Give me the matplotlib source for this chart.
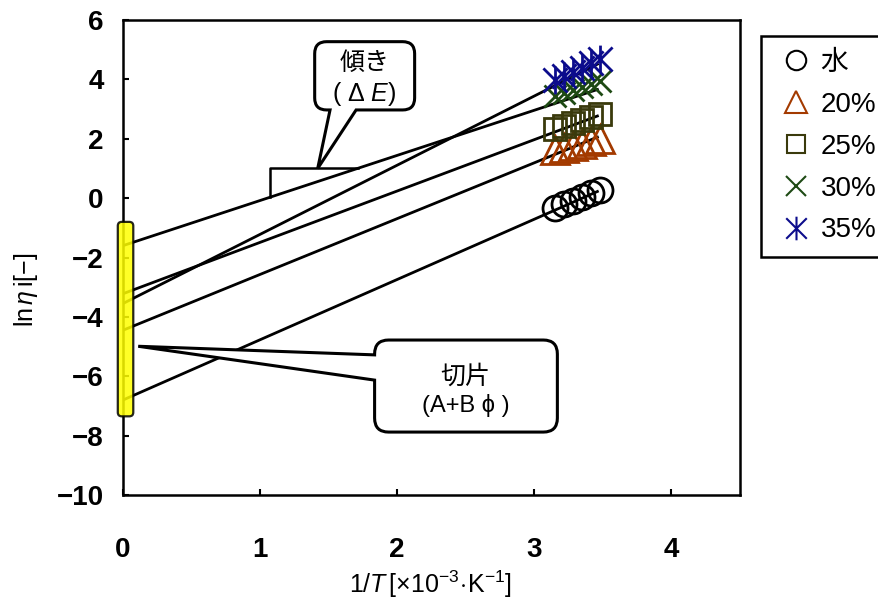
import matplotlib
matplotlib.use("Agg")
import matplotlib.pyplot as plt
from matplotlib.path import Path
from matplotlib.patches import PathPatch
from matplotlib.lines import Line2D

plt.rcParams['font.family'] = ['Liberation Sans', 'Noto Sans CJK JP', 'DejaVu Sans']
plt.rcParams['mathtext.fontset'] = 'custom'
plt.rcParams['mathtext.rm'] = 'Liberation Sans'
plt.rcParams['mathtext.it'] = 'Liberation Sans:italic'
plt.rcParams['axes.unicode_minus'] = True

# reciprocal temperature 1/T [x10^-3 K^-1]
inv_T = [3.15, 3.22, 3.28, 3.35, 3.41, 3.48]

series_labels = ['水', '20%', '25%', '30%', '35%']
ln_eta_water = [-0.34, -0.21, -0.08, 0.05, 0.16, 0.28]
ln_eta_20 = [1.62, 1.69, 1.76, 1.83, 1.91, 1.99]
ln_eta_25 = [2.34, 2.44, 2.54, 2.63, 2.73, 2.83]
ln_eta_30 = [3.43, 3.53, 3.63, 3.73, 3.84, 3.96]
ln_eta_35 = [3.97, 4.11, 4.25, 4.40, 4.55, 4.68]

# Arrhenius fits: ln(eta) = intercept + slope * (1/T)
fit_intercept = [-6.80, -4.45, -3.22, -1.60, -3.55]
fit_slope = [2.03, 1.88, 1.73, 1.52, 2.33]
fit_x_end = 3.46

x_ticks = [0, 1, 2, 3, 4]
y_ticks = [-10, -8, -6, -4, -2, 0, 2, 4, 6]

colors = ['#000000', '#A33A00', '#3A3A0C', '#1E4A14', '#0C0C8C']

# asterisk marker: an "x" crossed by a vertical stroke
ast_path = Path([(-1, -1), (1, 1), (-1, 1), (1, -1), (0, -1.15), (0, 1.15)],
                [Path.MOVETO, Path.LINETO, Path.MOVETO, Path.LINETO, Path.MOVETO, Path.LINETO])
markers = ['o', '^', 's', 'x', ast_path]
plot_sizes = [18, 20, 16, 16, 20]
legend_sizes = [14, 16, 13, 15, 17]

fig = plt.figure(figsize=(8.79, 6.04), dpi=100)
ax = fig.add_axes([123 / 879, 109 / 604, 617 / 879, 475 / 604])

series = [ln_eta_water, ln_eta_20, ln_eta_25, ln_eta_30, ln_eta_35]

# fitted straight lines from the intercept axis to the measured range
for a, b in zip(fit_intercept, fit_slope):
    ax.plot([0, fit_x_end], [a, a + b * fit_x_end], color='black', lw=2.0, zorder=3)

for ys, c, m, ms in zip(series, colors, markers, plot_sizes):
    ax.plot(inv_T, ys, linestyle='none', marker=m, markersize=ms,
            markerfacecolor='none', markeredgecolor=c, markeredgewidth=2.0, zorder=4)

ax.set_xlim(0, 4.5)
ax.set_ylim(-10, 6)
ax.set_xticks(x_ticks)
ax.set_yticks(y_ticks)
ax.tick_params(direction='in', length=4, width=1.5, top=False, right=False,
               labelsize=20)
ax.tick_params(axis='x', pad=30)
ax.tick_params(axis='y', pad=14)
for lab in ax.get_xticklabels() + ax.get_yticklabels():
    lab.set_fontweight('bold')
for sp in ax.spines.values():
    sp.set_linewidth(1.8)

ax.set_xlabel(r'$1/\mathit{T}\,[\times10^{-3}\!\cdot\!\mathrm{K}^{-1}]$', fontsize=18)
ax.xaxis.set_label_coords(0.4976, -0.155)
ax.xaxis.label.set_va('top')
ax.set_ylabel(r'ln$\,\mathit{\eta}\,$i[−]', fontsize=18)
ax.yaxis.set_label_coords(-0.1345, 0.432)


def callout_path(x0, x1, y0, y1, rx, ry, tail_side=None, t1=None, t2=None, tip=None):
    """Rounded rectangle with an optional pointer tail on the bottom or left edge."""
    V, C = [], []

    def mv(p):
        V.append(p); C.append(Path.MOVETO)

    def ln(p):
        V.append(p); C.append(Path.LINETO)

    def q(c, p):
        V.extend([c, p]); C.extend([Path.CURVE3, Path.CURVE3])

    mv((x0 + rx, y1))
    ln((x1 - rx, y1))
    q((x1, y1), (x1, y1 - ry))
    ln((x1, y0 + ry))
    q((x1, y0), (x1 - rx, y0))
    if tail_side == 'bottom':
        ln((t2, y0)); ln(tip); ln((t1, y0))
    ln((x0 + rx, y0))
    q((x0, y0), (x0, y0 + ry))
    if tail_side == 'left':
        ln((x0, t1)); ln(tip); ln((x0, t2))
    ln((x0, y1 - ry))
    q((x0, y1), (x0 + rx, y1))
    V.append((x0 + rx, y1)); C.append(Path.CLOSEPOLY)
    return Path(V, C)


px_x = 137.3   # pixels per x unit
px_y = 29.69   # pixels per y unit

# slope triangle on the 30% fit line
a30, b30 = fit_intercept[3], fit_slope[3]
tri_x0 = 1.07
tri_y1 = 1.0
tri_x1 = (tri_y1 - a30) / b30
ax.plot([tri_x0, tri_x0, tri_x1], [a30 + b30 * tri_x0, tri_y1, tri_y1],
        color='black', lw=1.8, zorder=3)

# callout for the slope
p1 = callout_path(1.398, 2.127, 2.97, 5.27, 12 / px_x, 12 / px_y,
                  tail_side='bottom', t1=1.51, t2=1.70, tip=(1.42, tri_y1))
ax.add_patch(PathPatch(p1, facecolor='white', edgecolor='black', lw=2.2, zorder=6,
                       clip_on=False))
ax.text(1.76, 4.55, '傾き', ha='center', va='center', fontsize=18,
        family=['Noto Sans CJK JP'], zorder=7)
ax.text(1.76, 3.52, r'( Δ $\mathit{E}$)', ha='center', va='center', fontsize=18, zorder=7)

# callout for the intercept
p2 = callout_path(1.835, 3.168, -7.88, -4.78, 14 / px_x, 14 / px_y,
                  tail_side='left', t1=-6.13, t2=-5.28, tip=(0.111, -4.99))
ax.add_patch(PathPatch(p2, facecolor='white', edgecolor='black', lw=2.2, zorder=6,
                       clip_on=False))
ax.text(2.50, -6.0, '切片', ha='center', va='center', fontsize=18,
        family=['Noto Sans CJK JP'], zorder=7)
ax.text(2.50, -6.98, '(A+B ϕ )', ha='center', va='center', fontsize=17,
        family=['Liberation Sans', 'DejaVu Sans'], zorder=7)

# highlighted intercept band on the y axis
band = callout_path(-0.038, 0.075, -7.35, -0.80, 4 / px_x, 4 / px_y)
ax.add_patch(PathPatch(band, facecolor='#FFFF00', edgecolor='black', lw=1.6,
                       alpha=0.85, zorder=8, clip_on=False))

handles = [Line2D([], [], linestyle='none', marker=m, markersize=ms,
                  markerfacecolor='none', markeredgecolor=c, markeredgewidth=1.5)
           for m, ms, c in zip(markers, legend_sizes, colors)]
leg = ax.legend(handles, series_labels, loc='upper left', bbox_to_anchor=(1.034, 0.966),
                frameon=True, fancybox=False, edgecolor='black', framealpha=1,
                fontsize=20, handlelength=1.55, handletextpad=0.1, labelspacing=0.57,
                borderpad=0.5, borderaxespad=0)
leg.get_frame().set_linewidth(1.8)

fig.savefig('out.png', dpi=100)
